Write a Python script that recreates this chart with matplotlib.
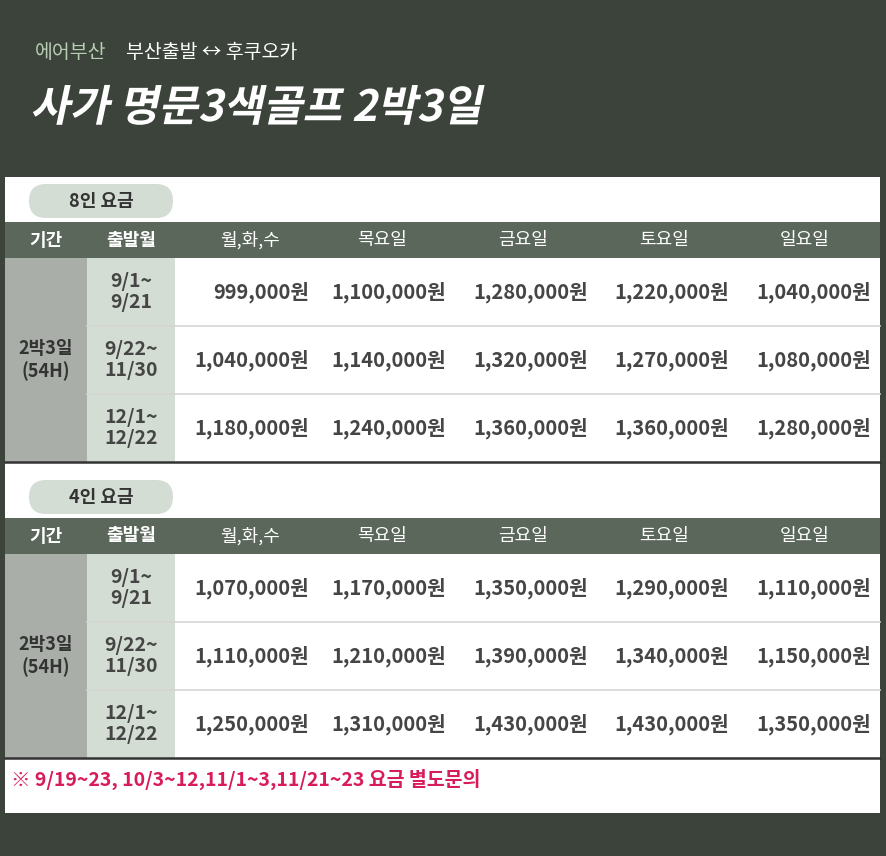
import matplotlib
matplotlib.use("Agg")
import matplotlib.pyplot as plt
from matplotlib.patches import Rectangle, FancyBboxPatch, PathPatch
from matplotlib.textpath import TextPath
from matplotlib.font_manager import FontProperties
from matplotlib.transforms import Affine2D

plt.rcParams['font.family'] = ['Noto Sans CJK KR', 'DejaVu Sans']

airline = "에어부산"
route = "부산출발 ↔ 후쿠오카"
title = "사가 명문3색골프 2박3일"
headers = ["기간", "출발월", "월,화,수", "목요일", "금요일", "토요일", "일요일"]
period = "2박3일\n(54H)"
months = ["9/1~\n9/21", "9/22~\n11/30", "12/1~\n12/22"]
sections = ["8인 요금", "4인 요금"]
prices_8 = [[999000, 1100000, 1280000, 1220000, 1040000],
            [1040000, 1140000, 1320000, 1270000, 1080000],
            [1180000, 1240000, 1360000, 1360000, 1280000]]
prices_4 = [[1070000, 1170000, 1350000, 1290000, 1110000],
            [1110000, 1210000, 1390000, 1340000, 1150000],
            [1250000, 1310000, 1430000, 1430000, 1350000]]
note = "※ 9/19~23, 10/3~12,11/1~3,11/21~23 요금 별도문의"

BG = "#3b433b"
HEAD = "#5b675b"
GRAY = "#a9aea9"
LGREEN = "#d3ddd3"
TXT = "#454545"

fig = plt.figure(figsize=(8.87, 8.56), dpi=100)
fig.patch.set_facecolor(BG)
ax = fig.add_axes([0, 0, 1, 1])
ax.set_xlim(0, 887)
ax.set_ylim(856, 0)
ax.axis("off")

fp_reg = dict(fontsize=14)
ax.text(35, 52, airline, color="#b7cfb2", fontsize=14, va="center")
ax.text(126, 52, route, color="white", fontsize=14, va="center")

prop = FontProperties(family='Noto Sans CJK KR', weight='bold')
tp = TextPath((0, 0), title, size=43, prop=prop)
tr = Affine2D().skew_deg(12, 0).scale(1, -1).translate(30, 121)
ax.add_patch(PathPatch(tr.transform_path(tp), color="white", lw=0))

ax.add_patch(Rectangle((5, 177), 875, 636, color="white", lw=0))

col_cx = [46, 131, 250, 382, 523, 664, 805]
col_right = [309, 446, 588, 729, 871]
row_h = 68

for s, (name, prices) in enumerate(zip(sections, [prices_8, prices_4])):
    off = s * 296
    ax.add_patch(FancyBboxPatch((12 + 17, 184 + off), 178 - 34, 34,
                                boxstyle="round,pad=0,rounding_size=17",
                                mutation_aspect=1, color=LGREEN, lw=0))
    ax.add_patch(Rectangle((12, 184 + off), 178, 34, color=LGREEN, lw=0,
                           clip_on=True, visible=False))
    ax.text(101, 201 + off, name, fontsize=13, weight="bold", color="#333", ha="center", va="center")
    ax.add_patch(Rectangle((5, 222 + off), 875, 36, color=HEAD, lw=0))
    for j, h in enumerate(headers):
        ax.text(col_cx[j], 240 + off, h, fontsize=13, color="white",
                weight="bold" if j < 2 else "normal", ha="center", va="center")
    top = 258 + off
    ax.add_patch(Rectangle((5, top), 82, 3 * row_h, color=GRAY, lw=0))
    ax.add_patch(Rectangle((87, top), 88, 3 * row_h, color=LGREEN, lw=0))
    ax.text(46, top + 1.5 * row_h, period, fontsize=13, weight="bold", color="#333",
            ha="center", va="center", linespacing=1.2)
    for i in range(3):
        y = top + (i + 0.5) * row_h
        ax.text(131, y, months[i], fontsize=14, weight="bold", color=TXT,
                ha="center", va="center", linespacing=1.15)
        for j in range(5):
            ax.text(col_right[j], y, f"{prices[i][j]:,}원", fontsize=14.5, weight="bold",
                    color=TXT, ha="right", va="center")
        if i > 0:
            ax.plot([87, 880], [top + i * row_h] * 2, color="#d5d5d5", lw=1.2)
    ax.plot([5, 880], [top + 3 * row_h] * 2, color="#333", lw=1.8)

ax.text(11, 779, note, fontsize=14, weight="bold", color="#d81b5a", va="center")

fig.savefig("out.png", dpi=100, facecolor=BG)
